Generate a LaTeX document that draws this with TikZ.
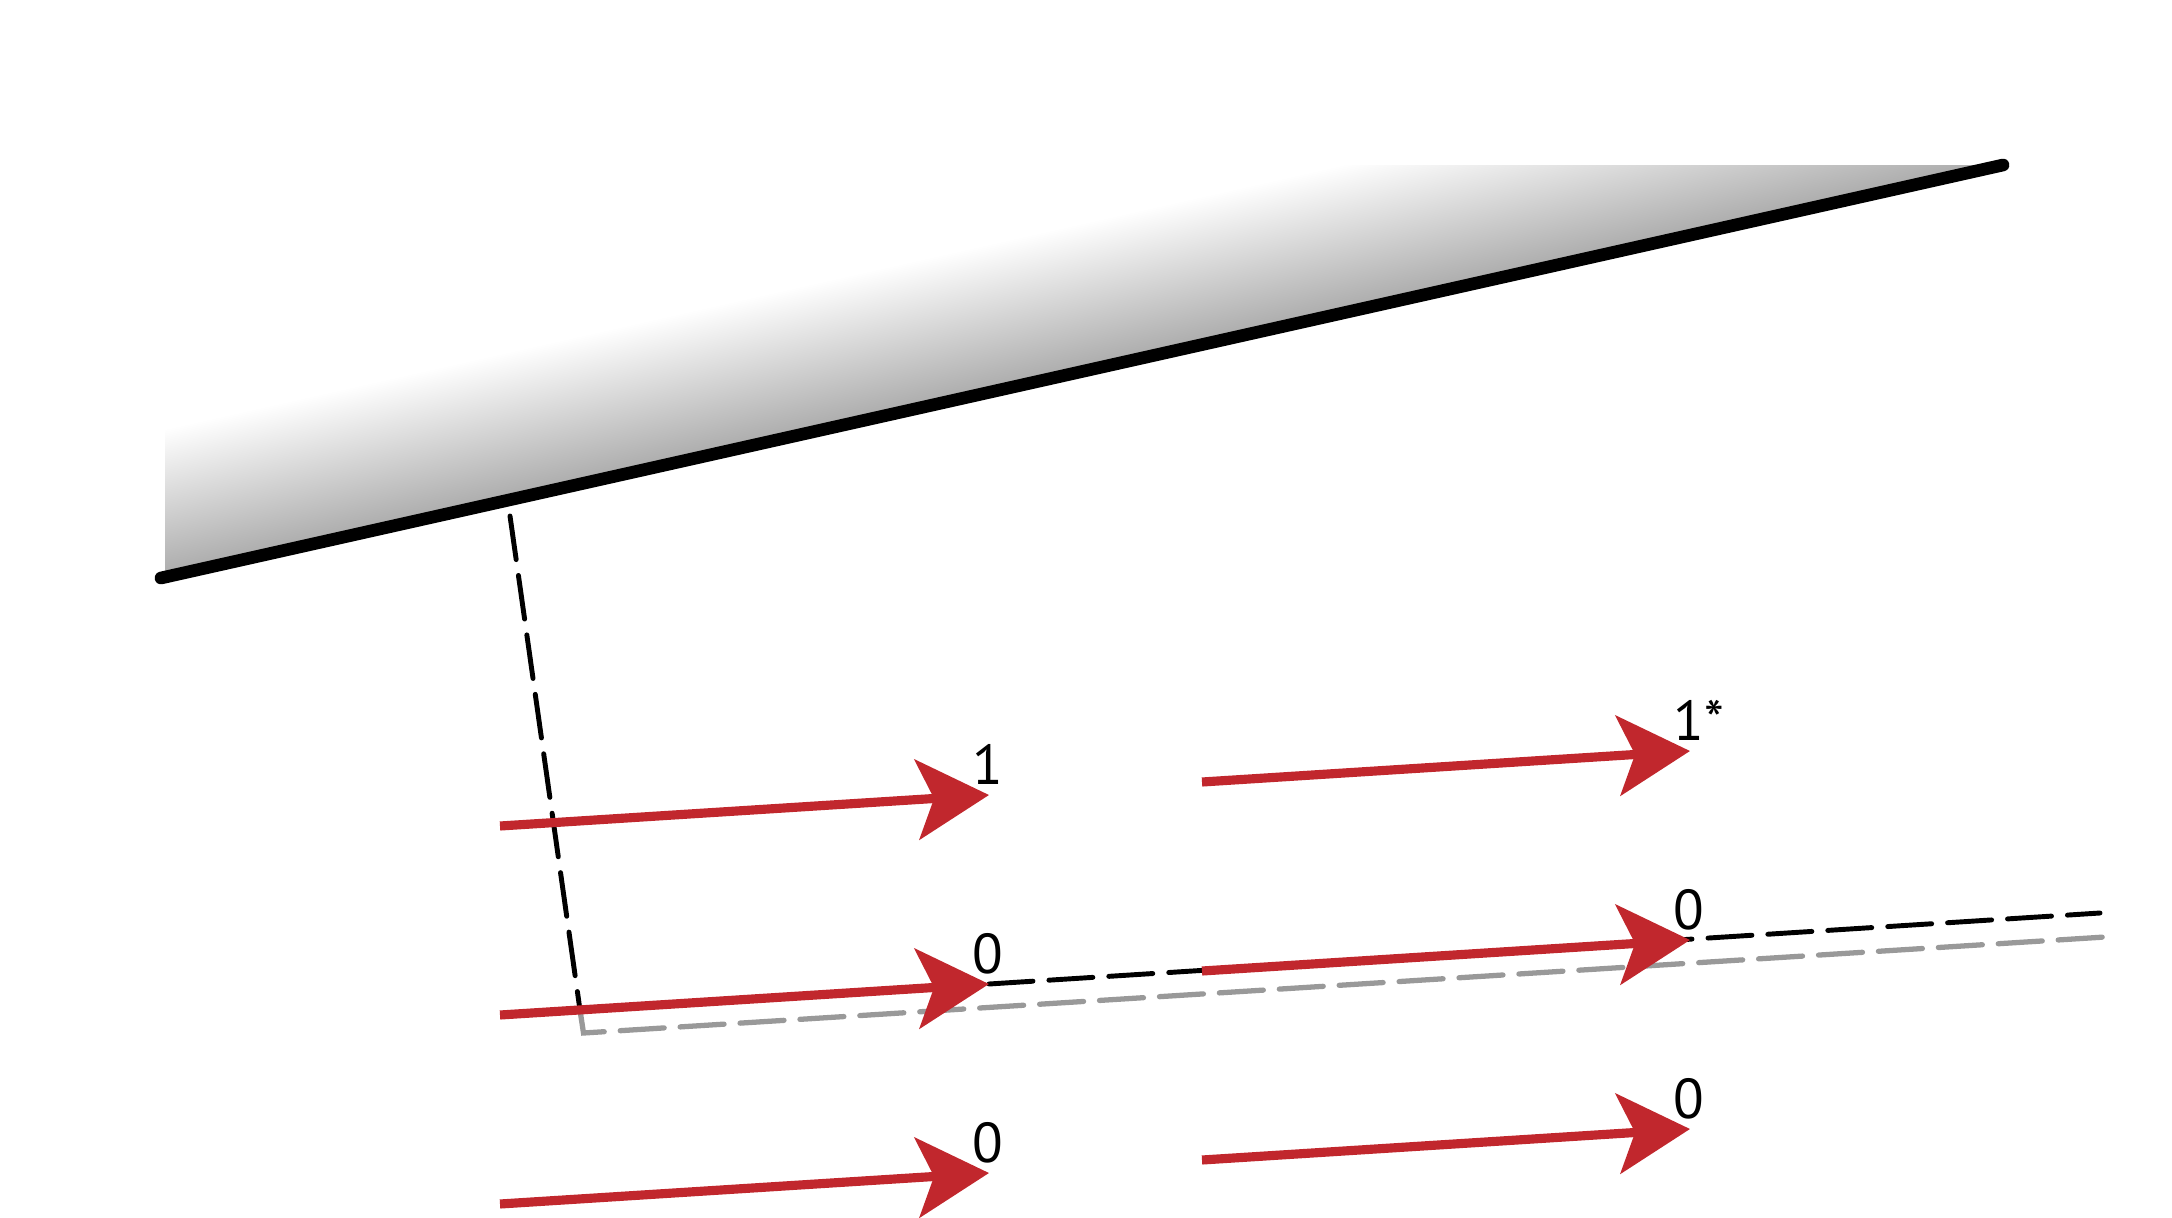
\documentclass[tikz,border=0pt]{standalone}
\usepackage{fontspec}
\setmainfont{PT Sans}
\usepackage{xcolor}
\usetikzlibrary{arrows.meta,calc}
\definecolor{rayred}{HTML}{C1272D}

\begin{document}
\begin{tikzpicture}[x=0.01cm,y=-0.01cm,
    ray/.style={rayred,line width=2.6pt,-{Stealth[length=0.72cm,width=0.8cm,inset=0.17cm]}},
    lbl/.style={anchor=base west,inner sep=0pt,font=\fontsize{16}{18}\selectfont,xshift=-0.17cm,yshift=0.11cm},
    guide/.style={black,line width=1.4pt,line cap=round,dash pattern=on 0.44cm off 0.16cm},
    ghost/.style={black!40,line width=1.5pt,line cap=round,dash pattern=on 0.44cm off 0.16cm},
    wall/.style={black,line width=3.6pt,line cap=round}]
    \useasboundingbox (0,0) rectangle (2172,1218);

    % Wall and its shadow
    \coordinate (wl) at (161,578);
    \coordinate (wr) at (2003,165);
    \begin{scope}
        \clip (165,578) -- (2003,165) -- (165,165) -- cycle;
        \begin{scope}[transform canvas={shift={(wl)},rotate=12.64}]
            \shade[top color=white,bottom color=black!33] (-300,0) rectangle (2300,-145);
        \end{scope}
    \end{scope}
    \draw[wall] (wl) -- (wr);

    % Rays (start, tip)
    \coordinate (a1) at (500,826);  \coordinate (b1) at (989,795);
    \coordinate (c1) at (1202,782); \coordinate (d1) at (1690,751);
    \coordinate (a2) at (500,1015); \coordinate (b2) at (989,984);
    \coordinate (c2) at (1202,971); \coordinate (d2) at (1690,940);
    \coordinate (a3) at (500,1204); \coordinate (b3) at (989,1173);
    \coordinate (c3) at (1202,1160); \coordinate (d3) at (1690,1129);

    % Normal and reference lines
    \coordinate (foot) at (510,516);
    \coordinate (hit) at (580,1010);
    \coordinate (corner) at (583.5,1033);
    \coordinate (gend) at (2105,937);
    \coordinate (bend) at (2100,913);
    \draw[guide] (foot) -- (hit);
    \draw[ghost] (hit) -- (corner) -- (gend);
    \draw[guide] (b2) -- (bend);

    \draw[ray] (a1) -- (b1);
    \draw[ray] (c1) -- (d1);
    \draw[ray] (a2) -- (b2);
    \draw[ray] (c2) -- (d2);
    \draw[ray] (a3) -- (b3);
    \draw[ray] (c3) -- (d3);

    % Labels
    \node[lbl] (l1) at (b1) {1};
    \node[lbl] (r1) at (d1) {1*};
    \node[lbl] (l2) at (b2) {0};
    \node[lbl] (r2) at (d2) {0};
    \node[lbl] (l3) at (b3) {0};
    \node[lbl] (r3) at (d3) {0};
\end{tikzpicture}
\end{document}
